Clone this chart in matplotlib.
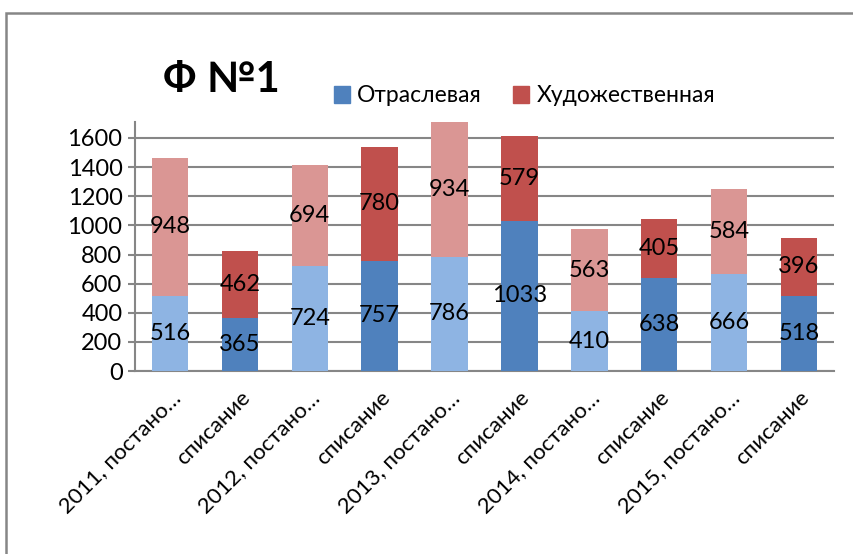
import matplotlib
matplotlib.use("Agg")
import matplotlib.pyplot as plt
from matplotlib.patches import Rectangle, Patch

categories = ["2011, постано…", "списание", "2012, постано…", "списание",
              "2013, постано…", "списание", "2014, постано…", "списание",
              "2015, постано…", "списание"]
otraslevaya = [516, 365, 724, 757, 786, 1033, 410, 638, 666, 518]
khudozh = [948, 462, 694, 780, 934, 579, 563, 405, 584, 396]
yticks = [0, 200, 400, 600, 800, 1000, 1200, 1400, 1600]

plt.rcParams['font.family'] = ['Lato', 'DejaVu Sans']

W, H = 854, 554
fig = plt.figure(figsize=(W / 100, H / 100), dpi=100)

# chart border
fig.patches.append(Rectangle((6 / W, -0.1), 1.2, 1 - 13 / H + 0.1, transform=fig.transFigure,
                             fill=False, edgecolor="#868686", linewidth=1.8, zorder=0))

left, right, y0, ytop = 135, 834, 371, 122
ax = fig.add_axes([left / W, (H - y0) / H, (right - left) / W, (y0 - ytop) / H])

dark_blue, light_blue = "#4F81BD", "#8EB4E3"
dark_red, light_red = "#C0504D", "#DA9694"

x = range(len(categories))
bc = [light_blue if i % 2 == 0 else dark_blue for i in x]
rc = [light_red if i % 2 == 0 else dark_red for i in x]
b1 = ax.bar(x, otraslevaya, width=0.52, color=bc, zorder=3)
b2 = ax.bar(x, khudozh, width=0.52, bottom=otraslevaya, color=rc, zorder=3)
ax.bar_label(b1, labels=[str(v) for v in otraslevaya], label_type="center", fontsize=17, color="black", zorder=4)
ax.bar_label(b2, labels=[str(v) for v in khudozh], label_type="center", fontsize=17, color="black", zorder=4)

ax.set_xlim(-0.5, len(categories) - 0.5)
ax.set_ylim(0, 1600 * (y0 - ytop) / (y0 - 138))
ax.set_yticks(yticks)
ax.set_yticklabels([str(v) for v in yticks], fontsize=17)
ax.yaxis.grid(True, color="#868686", linewidth=1.5, zorder=0)
ax.set_axisbelow(True)
ax.set_xticks(list(x))
ax.set_xticklabels(categories, rotation=45, ha="right", rotation_mode="anchor", fontsize=16)
ax.tick_params(axis="x", length=0, pad=12)
ax.tick_params(axis="y", length=5, color="#868686", width=1.5, pad=4)
for s in ["top", "right"]:
    ax.spines[s].set_visible(False)
for s in ["left", "bottom"]:
    ax.spines[s].set_color("#868686")
    ax.spines[s].set_linewidth(1.5)

fig.text(163 / W, 1 - 80 / H, "Ф №1", fontsize=30, fontweight="bold", va="center", ha="left")

handles = [Patch(color=dark_blue), Patch(color=dark_red)]
fig.legend(handles, ["Отраслевая", "Художественная"], loc="center left",
           bbox_to_anchor=(313 / W, 1 - 96 / H), ncol=2, frameon=False, fontsize=16.5,
           handlelength=0.7, handleheight=0.7, handletextpad=0.3, columnspacing=1.4)

fig.savefig("out.png", dpi=100)
